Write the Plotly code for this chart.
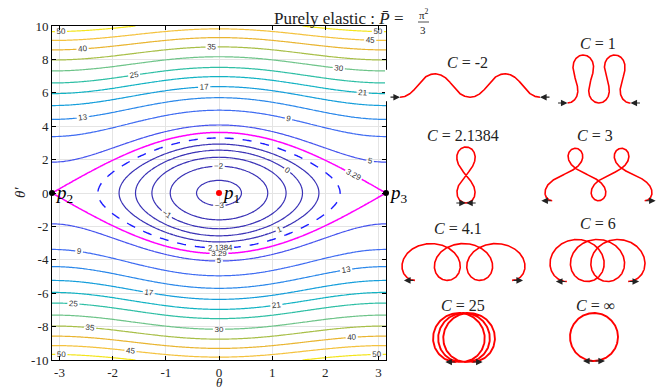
import math
import numpy as np
import plotly.graph_objects as go

W, H = 669, 391
OFF = 8                     # page body margin of the html page
FW, FH = W - OFF, H - OFF   # figure size so the page fits the window

# ---------------- data ----------------
P_BAR = math.pi ** 2 / 3          # purely elastic load
LEVELS_LOW = [-3, -2, -1, 0, 1]
LEVELS_MID = [5, 9, 13, 17, 21, 25]
LEVELS_HIGH = [30, 35, 40, 45, 50]
LEVEL_FIG8 = 2.1384
LEVEL_SEP = 3.29

X_TICKS = [-3, -2, -1, 0, 1, 2, 3]
Y_TICKS = [-10, -8, -6, -4, -2, 0, 2, 4, 6, 8, 10]

C_VALUES = [-2, 1, 2.1384, 3, 4.1, 6, 25, float("inf")]
C_LABELS = ["-2", "1", "2.1384", "3", "4.1", "6", "25", "∞"]
N_PERIODS = [2, 2, 1, 2, 3, 3, 3, 1]

POINT_NAMES = ["1", "2", "3"]
POINT_THETA = [0.0, -math.pi, math.pi]
POINT_DTHETA = [0.0, 0.0, 0.0]

# ---------------- styles ----------------
COLOR_LOW = "#3a32b6"
COLORS_MID = ["#4654ee", "#3f6cf2", "#2b88ea", "#169fdb", "#12b3c3", "#2fbfa5"]
COLORS_HIGH = ["#6ec489", "#a8bf48", "#e9b530", "#f4c23e", "#f4e51c"]
SERIF = "Liberation Serif"

# panel boxes: centre x, centre y, max width, max height (px); title x, y (px); arrows outward
PANELS = [
    (470, 85.5, 140, 25, 467, 62, False),
    (599, 79, 68, 48, 598, 43, False),
    (466, 175, 22, 56, 463, 135, False),
    (598.5, 174.5, 107, 55, 595, 135, True),
    (463.5, 262, 123, 40, 458, 228, True),
    (597.5, 260.5, 95, 43, 598, 223, True),
    (464, 337.5, 62, 49, 463, 305, True),
    (594, 337, 48, 50, 595, 305, True),
]

MAIN_X = (52, 386)
MAIN_Y = (26, 360)


def px_x(p):
    return (p - OFF) / FW


def px_y(p):
    return 1 - (p - OFF) / FH


def elastica(C, P, n):
    if not math.isfinite(C):
        C, P = 1.0, 0.0
    rotating = C > P
    w = math.sqrt(2 * (C + P))
    ds = 0.002
    th, x, y = 0.0, 0.0, 0.0
    xs, ys = [0.0], [0.0]
    crossings = 0

    def f(t, om):
        return om, -P * math.sin(t), math.cos(t), math.sin(t)

    for _ in range(400000):
        k1 = f(th, w)
        k2 = f(th + ds / 2 * k1[0], w + ds / 2 * k1[1])
        k3 = f(th + ds / 2 * k2[0], w + ds / 2 * k2[1])
        k4 = f(th + ds * k3[0], w + ds * k3[1])
        nth = th + ds / 6 * (k1[0] + 2 * k2[0] + 2 * k3[0] + k4[0])
        nw = w + ds / 6 * (k1[1] + 2 * k2[1] + 2 * k3[1] + k4[1])
        nx = x + ds / 6 * (k1[2] + 2 * k2[2] + 2 * k3[2] + k4[2])
        ny = y + ds / 6 * (k1[3] + 2 * k2[3] + 2 * k3[3] + k4[3])
        done = False
        if rotating:
            tgt = 2 * math.pi * n
            if nth >= tgt:
                t = (tgt - th) / (nth - th)
                done = True
        else:
            if th < 0 <= nth:
                crossings += 1
                if crossings == n:
                    t = (0 - th) / (nth - th)
                    done = True
        if done:
            xs.append(x + t * (nx - x))
            ys.append(y + t * (ny - y))
            break
        th, w, x, y = nth, nw, nx, ny
        xs.append(x)
        ys.append(y)
    return np.array(xs), np.array(ys)


fig = go.Figure()

# ---------------- phase portrait ----------------
tg = np.linspace(-math.pi, math.pi, 161)
dg = np.linspace(-10, 10, 201)
TG, DG = np.meshgrid(tg, dg)
Z = np.round(DG ** 2 / 2 - P_BAR * np.cos(TG), 4)

lab_font = dict(family="Liberation Sans", size=8, color="#333333")


def add_contour(start, end, size, coloring, color=None, colorscale=None,
                width=1.2, dash="solid", fmt=None):
    kw = dict(
        x=tg, y=dg, z=Z, showscale=False, hoverinfo="skip",
        contours=dict(start=start, end=end, size=size, coloring=coloring,
                      showlabels=True, labelfont=lab_font),
        line=dict(width=width, dash=dash, smoothing=1),
        xaxis="x", yaxis="y",
    )
    if fmt:
        kw["contours"]["labelformat"] = fmt
    if color:
        kw["line"]["color"] = color
    if colorscale:
        kw["colorscale"] = colorscale
    fig.add_trace(go.Contour(**kw))


add_contour(LEVELS_LOW[0], LEVELS_LOW[-1], 1, "none", color=COLOR_LOW)
add_contour(LEVELS_MID[0], LEVELS_MID[-1], 4, "lines",
            colorscale=[[i / (len(COLORS_MID) - 1), c] for i, c in enumerate(COLORS_MID)])
add_contour(LEVELS_HIGH[0], LEVELS_HIGH[-1], 5, "lines",
            colorscale=[[i / (len(COLORS_HIGH) - 1), c] for i, c in enumerate(COLORS_HIGH)])
add_contour(LEVEL_FIG8, LEVEL_FIG8, 1, "none", color="#1c1cff", width=1.4,
            dash="dash", fmt=".4f")
add_contour(LEVEL_SEP, LEVEL_SEP, 1, "none", color="#ff00ff", width=1.5, fmt=".2f")

fig.add_trace(go.Scatter(
    x=POINT_THETA, y=POINT_DTHETA, mode="markers",
    marker=dict(size=6, color=["red", "black", "black"]),
    cliponaxis=False, hoverinfo="skip", xaxis="x", yaxis="y"))

annotations = []
for name, t, d in zip(POINT_NAMES, POINT_THETA, POINT_DTHETA):
    annotations.append(dict(
        x=t, y=d, xref="x", yref="y", text=f"<i>p</i><sub>{name}</sub>",
        showarrow=False, xanchor="left", yanchor="middle", xshift=1, yshift=-1,
        font=dict(family=SERIF, size=19, color="black")))

# ---------------- elastica panels ----------------
for i, (C, lab, n, box) in enumerate(zip(C_VALUES, C_LABELS, N_PERIODS, PANELS)):
    cx, cy, bw, bh, tx, ty, outward = box
    ax_id = i + 2
    xs, ys = elastica(C, P_BAR, n)
    xmin, xmax, ymin, ymax = xs.min(), xs.max(), ys.min(), ys.max()
    dx, dy = xmax - xmin, ymax - ymin
    scale = min(bw / dx, bh / dy)
    L = 11 / scale
    xc, yc = (xmin + xmax) / 2, (ymin + ymax) / 2
    x_start, y_start = xs[0], ys[0]
    x_end, y_end = xs[-1], ys[-1]
    arrows = []
    if not outward:
        arrows.append((x_start - L, y_start, x_start, y_start))
        arrows.append((x_end + L, y_end, x_end, y_end))
    else:
        arrows.append((x_start, y_start, x_start + L, y_start))
        arrows.append((x_end, y_end, x_end - L, y_end))
    allx = [xmin, xmax] + [a[0] for a in arrows] + [a[2] for a in arrows]
    ally = [ymin, ymax] + [a[1] for a in arrows]
    pad = 4 / scale
    xr = [min(allx) - pad, max(allx) + pad]
    yr = [min(ally) - pad, max(ally) + pad]
    x0p = cx + (xr[0] - xc) * scale
    x1p = cx + (xr[1] - xc) * scale
    y_top = cy - (yr[1] - yc) * scale
    y_bot = cy - (yr[0] - yc) * scale
    xa, ya = f"xaxis{ax_id}", f"yaxis{ax_id}"
    fig.update_layout(**{
        xa: dict(domain=[px_x(x0p), px_x(x1p)], range=xr, visible=False,
                 fixedrange=True, anchor=f"y{ax_id}", automargin=False),
        ya: dict(domain=[px_y(y_bot), px_y(y_top)], range=yr, visible=False,
                 fixedrange=True, anchor=f"x{ax_id}", automargin=False),
    })
    fig.add_trace(go.Scatter(
        x=xs[::3].tolist() + [xs[-1]], y=ys[::3].tolist() + [ys[-1]], mode="lines",
        line=dict(color="#ff0000", width=1.6 if i < 6 else 1.9),
        cliponaxis=False, hoverinfo="skip",
        xaxis=f"x{ax_id}", yaxis=f"y{ax_id}"))
    for (tx0, ty0, hx, hy) in arrows:
        annotations.append(dict(
            x=hx, y=hy, ax=tx0, ay=ty0,
            xref=f"x{ax_id}", yref=f"y{ax_id}", axref=f"x{ax_id}", ayref=f"y{ax_id}",
            showarrow=True, arrowhead=2, arrowsize=1.1, arrowwidth=1.2,
            arrowcolor="#222222", text=""))
    annotations.append(dict(
        x=px_x(tx), y=px_y(ty), xref="paper", yref="paper",
        text=f"<i>C</i> = {lab}", showarrow=False, xanchor="center", yanchor="middle",
        font=dict(family=SERIF, size=16, color="#222222")))

# ---------------- title and axis labels ----------------
annotations += [
    dict(x=px_x(410), y=px_y(18), xref="paper", yref="paper",
         text="Purely elastic : <i>P̄</i> = ", showarrow=False,
         xanchor="right", yanchor="middle",
         font=dict(family=SERIF, size=17, color="#222222")),
    dict(x=px_x(424), y=px_y(14), xref="paper", yref="paper",
         text="π<sup>2</sup>", showarrow=False, xanchor="center", yanchor="middle",
         font=dict(family=SERIF, size=11, color="#222222")),
    dict(x=px_x(423), y=px_y(30), xref="paper", yref="paper",
         text="3", showarrow=False, xanchor="center", yanchor="middle",
         font=dict(family=SERIF, size=11, color="#222222")),
    dict(x=px_x(219), y=px_y(382.5), xref="paper", yref="paper",
         text="<i>θ</i>", showarrow=False, xanchor="center", yanchor="middle",
         font=dict(family=SERIF, size=13, color="#222222")),
    dict(x=px_x(20), y=px_y(193), xref="paper", yref="paper",
         text="<i>θ′</i>", showarrow=False, xanchor="center", yanchor="middle",
         textangle=-90, font=dict(family=SERIF, size=15, color="#222222")),
]

fig.update_layout(
    width=FW, height=FH, margin=dict(l=0, r=0, t=0, b=0, autoexpand=False),
    plot_bgcolor="white", paper_bgcolor="white", showlegend=False,
    annotations=annotations,
    xaxis=dict(domain=[px_x(MAIN_X[0]), px_x(MAIN_X[1])], range=[-math.pi, math.pi],
               tickvals=X_TICKS, ticktext=[str(v) for v in X_TICKS],
               ticks="inside", ticklen=4, tickcolor="black", showline=True,
               linecolor="black", linewidth=1, mirror="ticks", showgrid=True,
               gridcolor="#e4e4e4", zeroline=False, anchor="y", fixedrange=True,
               automargin=False,
               tickfont=dict(family=SERIF, size=13, color="#222222")),
    yaxis=dict(domain=[px_y(MAIN_Y[1]), px_y(MAIN_Y[0])], range=[-10, 10],
               tickvals=Y_TICKS, ticktext=[str(v) for v in Y_TICKS],
               ticks="inside", ticklen=4, tickcolor="black", showline=True,
               linecolor="black", linewidth=1, mirror="ticks", showgrid=True,
               gridcolor="#e4e4e4", zeroline=False, anchor="x", fixedrange=True,
               automargin=False,
               tickfont=dict(family=SERIF, size=13, color="#222222")),
    shapes=[dict(type="line", xref="paper", yref="paper",
                 x0=px_x(418), x1=px_x(429), y0=px_y(22), y1=px_y(22),
                 line=dict(color="#222222", width=0.8))],
)

fig.write_html("out.html")
